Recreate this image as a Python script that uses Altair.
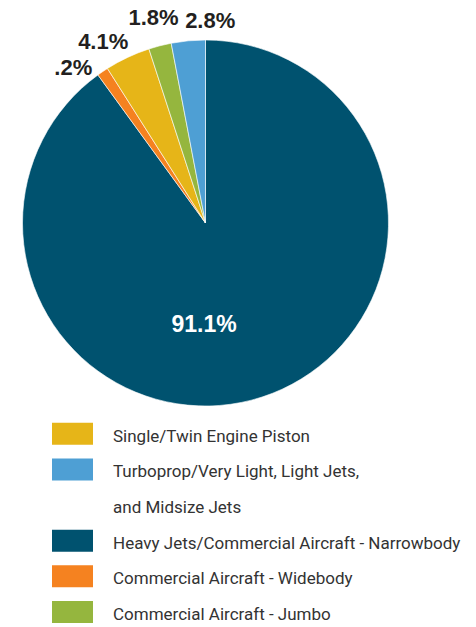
import altair as alt
import pandas as pd

# ---- data ----
categories = [
    "Heavy Jets/Commercial Aircraft - Narrowbody",
    "Commercial Aircraft - Widebody",
    "Single/Twin Engine Piston",
    "Commercial Aircraft - Jumbo",
    "Turboprop/Very Light, Light Jets, and Midsize Jets",
]
shares = [90.0, 1.0, 4.0, 2.0, 3.0]          # slice sizes as drawn
labels = ["91.1%", ".2%", "4.1%", "1.8%", "2.8%"]
colors = ["#00526f", "#f58220", "#e6b518", "#95b63e", "#4e9fd4"]

legend_lines = [
    "Single/Twin Engine Piston",
    "Turboprop/Very Light, Light Jets,",
    "and Midsize Jets",
    "Heavy Jets/Commercial Aircraft - Narrowbody",
    "Commercial Aircraft - Widebody",
    "Commercial Aircraft - Jumbo",
]
legend_swatch = [categories[2], categories[4], None, categories[0], categories[1], categories[3]]

pie_df = pd.DataFrame({"cat": categories, "share": shares, "label": labels,
                       "ord": list(range(len(categories)))})
leg_df = pd.DataFrame({"row": list(range(len(legend_lines))), "text": legend_lines,
                       "cat": legend_swatch})

color_scale = alt.Scale(domain=categories, range=colors)
LABEL_FONT = "Liberation Sans, Arial, sans-serif"
LEG_FONT = "Roboto, Liberation Sans, sans-serif"
CX, CY = 205.5, 223

base = alt.Chart(pie_df)

pie = base.mark_arc(outerRadius=183, stroke="white", strokeWidth=0.6).encode(
    theta=alt.Theta("share:Q", stack=True, scale=alt.Scale(domain=[0, 100])),
    order=alt.Order("ord:Q"),
    color=alt.Color("cat:N", scale=color_scale, legend=None),
    x=alt.value(CX), y=alt.value(CY),
)

# label style per slice: (radius, dx, dy, size, colour)
label_style = {
    0: (102, -33, 5, 23, "white"),
    1: (205, -17, 15, 22, "#231f20"),
    2: (205, -15, 4, 22, "#231f20"),
    3: (205, -1, -6, 22, "#231f20"),
    4: (205, 24, 2, 22, "#231f20"),
}

text_layers = []
for k, (r, dx, dy, fs, fc) in label_style.items():
    t = base.transform_window(
        cum="sum(share)", sort=[alt.SortField("ord")], frame=[None, 0]
    ).transform_calculate(
        mid="datum.cum - datum.share / 2"
    ).transform_filter(
        alt.datum.ord == k
    ).mark_text(
        radius=r, dx=dx, dy=dy, fontSize=fs, fontWeight="bold", font=LABEL_FONT,
        color=fc, align="center", baseline="middle",
    ).encode(
        theta=alt.Theta("mid:Q", stack=False, scale=alt.Scale(domain=[0, 100])),
        text="label:N",
        x=alt.value(CX), y=alt.value(CY),
    )
    text_layers.append(t)

pie_chart = alt.layer(pie, *text_layers).properties(width=411, height=416)

leg_y = alt.Y("row:Q", scale=alt.Scale(domain=[-0.5, 5], reverse=True), axis=None)
swatches = alt.Chart(leg_df).transform_filter("datum.cat != null").mark_point(
    shape="M-1,-0.537H1V0.537H-1Z", size=1681, filled=True, opacity=1, strokeWidth=0
).encode(
    x=alt.value(72.5), y=leg_y,
    color=alt.Color("cat:N", scale=color_scale, legend=None),
)
leg_text = alt.Chart(leg_df).mark_text(
    align="left", baseline="middle", dy=3, fontSize=17, font=LEG_FONT,
    color="#333333",
).encode(x=alt.value(113), y=leg_y, text="text:N")

legend_chart = alt.layer(swatches, leg_text).properties(width=411, height=196)

chart = alt.vconcat(pie_chart, legend_chart, spacing=0, bounds="flush").properties(
    padding=0
).configure_view(strokeWidth=0)

chart.save("out.html", embed_options={"renderer": "svg", "actions": False})
